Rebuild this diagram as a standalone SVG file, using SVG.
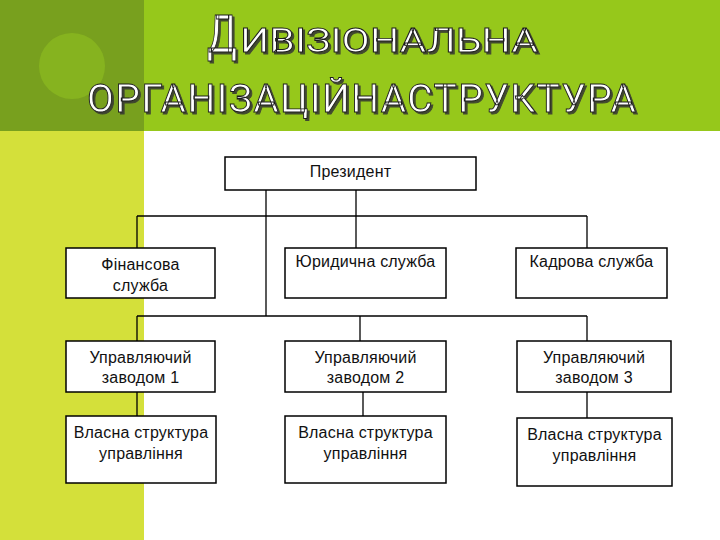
<svg xmlns="http://www.w3.org/2000/svg" width="720" height="540" viewBox="0 0 720 540">
  <defs>
    <style>
      .box { fill: #ffffff; stroke: #000000; stroke-width: 1.5; }
      .lbl { font-family: "Liberation Sans", Arial, sans-serif; font-size: 16px; fill: #111111; text-anchor: middle; letter-spacing: 0.2px; }
      .title { font-family: Roboto, "Liberation Sans", Arial, sans-serif; fill: #ffffff; stroke: #1b1b1b; stroke-width: 0.9; }
      .conn { fill: none; stroke: #000000; stroke-width: 1.3; }
    </style>
    <filter id="shadow" x="-5%" y="-30%" width="110%" height="160%">
      <feDropShadow dx="2" dy="2" stdDeviation="0.6" flood-color="#333333" flood-opacity="0.85"/>
    </filter>
  </defs>

  <g id="background">
    <rect x="0" y="0" width="720" height="540" fill="#ffffff"/>
    <rect x="0" y="0" width="720" height="131" fill="#96c81b"/>
    <rect x="0" y="0" width="144" height="131" fill="#78a01e"/>
    <circle cx="72" cy="66" r="33" fill="#86b31f"/>
    <rect x="0" y="131" width="144" height="409" fill="#d4e03a"/>
  </g>

  <g id="title" filter="url(#shadow)">
    <text class="title" y="52"><tspan x="207" font-size="51" textLength="30" lengthAdjust="spacingAndGlyphs">Д</tspan><tspan x="240" font-size="34" textLength="298" lengthAdjust="spacingAndGlyphs">ИВІЗІОНАЛЬНА</tspan></text>
    <text class="title" x="87" y="112" font-size="39" textLength="549" lengthAdjust="spacing">ОРГАНІЗАЦІЙНАСТРУКТУРА</text>
  </g>

  <g id="connectors">
    <path class="conn" d="M266 190 V316"/>
    <path class="conn" d="M356 190 V248"/>
    <path class="conn" d="M137 216 H587"/>
    <path class="conn" d="M137 216 V248"/>
    <path class="conn" d="M587 216 V248"/>
    <path class="conn" d="M137 316 H587"/>
    <path class="conn" d="M137 316 V341"/>
    <path class="conn" d="M360 316 V341"/>
    <path class="conn" d="M587 316 V341"/>
    <path class="conn" d="M137 392 V416"/>
    <path class="conn" d="M363 392 V416"/>
    <path class="conn" d="M587 392 V418"/>
  </g>

  <g id="president">
    <rect class="box" x="225" y="157" width="251" height="33"/>
    <text class="lbl" x="350.5" y="177">Президент</text>
  </g>

  <g id="finance">
    <rect class="box" x="66" y="248" width="149" height="50"/>
    <text class="lbl" x="140.5" y="269.5">Фінансова</text>
    <text class="lbl" x="140.5" y="291">служба</text>
  </g>

  <g id="legal">
    <rect class="box" x="285" y="248" width="161" height="50"/>
    <text class="lbl" x="365.5" y="267">Юридична служба</text>
  </g>

  <g id="hr">
    <rect class="box" x="516" y="248" width="151" height="50"/>
    <text class="lbl" x="591.5" y="267">Кадрова служба</text>
  </g>

  <g id="manager1">
    <rect class="box" x="66" y="341" width="149" height="51"/>
    <text class="lbl" x="140.5" y="362.5">Управляючий</text>
    <text class="lbl" x="140.5" y="383">заводом 1</text>
  </g>

  <g id="manager2">
    <rect class="box" x="285" y="341" width="161" height="51"/>
    <text class="lbl" x="365.5" y="362.5">Управляючий</text>
    <text class="lbl" x="365.5" y="383">заводом 2</text>
  </g>

  <g id="manager3">
    <rect class="box" x="517" y="341" width="154" height="51"/>
    <text class="lbl" x="594" y="362.5">Управляючий</text>
    <text class="lbl" x="594" y="383">заводом 3</text>
  </g>

  <g id="own1">
    <rect class="box" x="66" y="416" width="150" height="67"/>
    <text class="lbl" x="141" y="438">Власна структура</text>
    <text class="lbl" x="141" y="459">управління</text>
  </g>

  <g id="own2">
    <rect class="box" x="285" y="416" width="161" height="67"/>
    <text class="lbl" x="365.5" y="438">Власна структура</text>
    <text class="lbl" x="365.5" y="459">управління</text>
  </g>

  <g id="own3">
    <rect class="box" x="517" y="418" width="155" height="68"/>
    <text class="lbl" x="594.5" y="440">Власна структура</text>
    <text class="lbl" x="594.5" y="461">управління</text>
  </g>
</svg>
